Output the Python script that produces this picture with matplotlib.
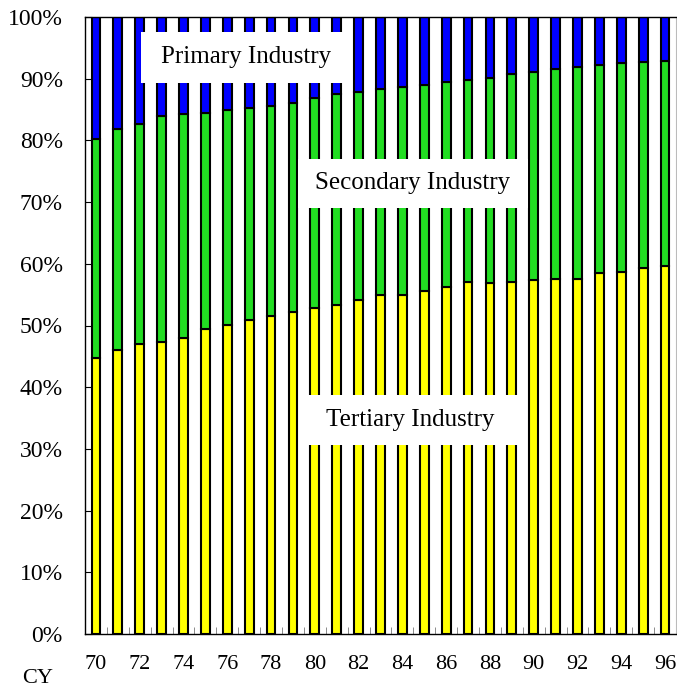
import numpy as np
import matplotlib
matplotlib.use('Agg')
from matplotlib import pyplot as plt
from matplotlib.patches import Rectangle

plt.rcParams['font.family'] = ['Liberation Serif', 'DejaVu Serif']

years = ['70', '71', '72', '73', '74', '75', '76', '77', '78', '79',
         '80', '81', '82', '83', '84', '85', '86', '87', '88', '89',
         '90', '91', '92', '93', '94', '95', '96']
tertiary = [44.8, 46.0, 47.0, 47.3, 47.9, 49.4, 50.1, 50.9, 51.5, 52.2,
            52.8, 53.4, 54.2, 54.9, 54.9, 55.6, 56.3, 57.0, 56.9, 57.0,
            57.3, 57.5, 57.6, 58.5, 58.7, 59.4, 59.7]
secondary = [35.4, 35.8, 35.6, 36.6, 36.3, 35.1, 34.8, 34.3, 34.0, 33.9,
             34.1, 34.1, 33.6, 33.4, 33.8, 33.4, 33.1, 32.8, 33.2, 33.7,
             33.8, 34.0, 34.3, 33.8, 33.8, 33.3, 33.1]
primary = [19.8, 18.2, 17.4, 16.1, 15.8, 15.5, 15.1, 14.8, 14.5, 13.9,
           13.1, 12.5, 12.2, 11.7, 11.3, 11.0, 10.6, 10.2, 9.9, 9.3,
           8.9, 8.5, 8.1, 7.7, 7.5, 7.3, 7.2]

W, H = 677, 690
fig = plt.figure(figsize=(W / 100, H / 100), dpi=100)
ax = fig.add_axes([85 / W, 1 - 634 / H, 591 / W, 617 / H])

x = np.arange(len(years))
bw = 0.4
kw = dict(width=bw, edgecolor='black', linewidth=1.5)
ax.bar(x, tertiary, color='#ffff00', **kw)
ax.bar(x, secondary, bottom=tertiary, color='#22dd22', **kw)
ax.bar(x, primary, bottom=np.array(tertiary) + np.array(secondary),
       color='#0000ff', **kw)

ax.set_xlim(-0.5, len(years) - 0.5)
ax.set_ylim(0, 100)
ax.set_yticks(np.arange(0, 101, 10))
ax.set_yticklabels([f'{v}%' for v in range(0, 101, 10)])
ax.set_xticks(x[::2])
ax.set_xticklabels(years[::2])
ax.set_xticks(x[:-1] + 0.5, minor=True)
ax.tick_params(axis='y', direction='in', length=5, pad=16, labelsize=17)
ax.tick_params(axis='x', which='major', length=0, pad=15, labelsize=16)
ax.tick_params(axis='x', which='minor', direction='in', length=5,
               color='#777777')
for s in ['left', 'top', 'bottom']:
    ax.spines[s].set_linewidth(1.0)
ax.spines['right'].set_color('#bbbbbb')


def label_box(x0, y0, x1, y1, text):
    # box given in image pixels (top-left origin)
    fig.patches.append(Rectangle((x0 / W, 1 - y1 / H), (x1 - x0) / W,
                                 (y1 - y0) / H, transform=fig.transFigure,
                                 facecolor='white', edgecolor='none',
                                 zorder=5))
    fig.text((x0 + x1) / 2 / W, 1 - (y0 + y1) / 2 / H, text, fontsize=18,
             ha='center', va='center', zorder=6)


label_box(141, 32, 352, 83, 'Primary Industry')
label_box(298, 159, 528, 208, 'Secondary Industry')
label_box(303, 395, 518, 445, 'Tertiary Industry')

fig.text(22 / W, 1 - 683 / H, 'CY', fontsize=16, ha='left', va='baseline')

fig.savefig('out.png', dpi=100)
